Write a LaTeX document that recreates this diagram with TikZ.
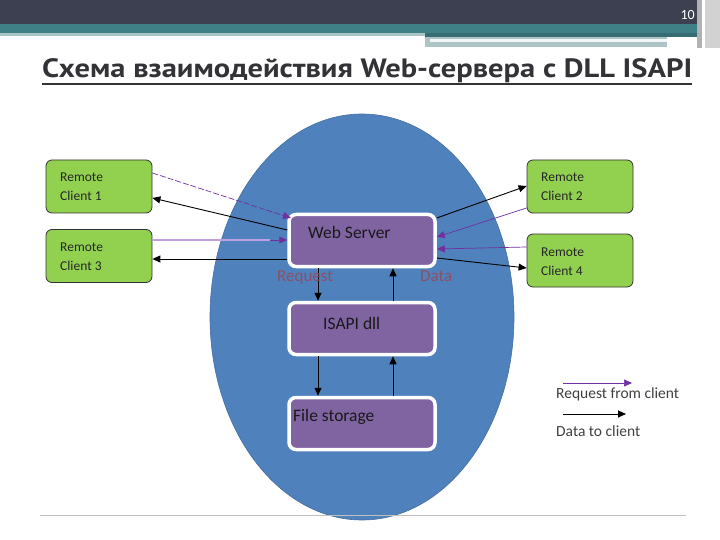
\documentclass[tikz,border=0pt]{standalone}
\usepackage{fontspec}
\setmainfont{Carlito}
\newfontfamily\titlefont{PT Sans}
\usetikzlibrary{arrows.meta,shapes.geometric}
\definecolor{darkbar}{RGB}{60,64,80}
\definecolor{tealbar}{RGB}{62,128,134}
\definecolor{lightbar}{RGB}{172,196,198}
\definecolor{ellblue}{RGB}{79,129,189}
\definecolor{elledge}{RGB}{70,110,160}
\definecolor{boxpurple}{RGB}{128,100,162}
\definecolor{boxgreen}{RGB}{146,208,80}
\definecolor{reqpurple}{RGB}{112,48,160}
\definecolor{lavender}{RGB}{190,160,225}
\definecolor{labelmauve}{RGB}{140,80,100}
\definecolor{titlegray}{RGB}{50,50,55}
\begin{document}
\begin{tikzpicture}[x=1pt,y=-1pt,
  serverbox/.style={draw=white,line width=3.5pt,fill=boxpurple,rounded corners=7pt,minimum width=146pt,minimum height=52pt,inner sep=0pt},
  clientbox/.style={draw=black!80,line width=0.8pt,fill=boxgreen,rounded corners=6pt,minimum width=106pt,minimum height=53pt,inner sep=0pt},
  clienttext/.style={font=\fontsize{13.5}{19}\selectfont,align=left,text=black!85,anchor=base west,inner sep=0pt},
  servertext/.style={font=\fontsize{17.5}{20}\selectfont,text=black!90,anchor=base west,inner sep=0pt},
  datarrow/.style={draw=black,line width=0.9pt,-{Triangle[length=8pt,width=7pt]}},
  reqarrow/.style={draw=reqpurple,line width=0.7pt,-{Triangle[length=8pt,width=7pt]}},
  lbl/.style={font=\fontsize{17}{19}\selectfont,text=labelmauve,anchor=base west,inner sep=0pt},
  legtext/.style={anchor=base west,inner sep=0pt,font=\fontsize{15.5}{18}\selectfont,text=black!75}]
\useasboundingbox (0,0) rectangle (720,540);
% header bars
\fill[darkbar] (0,0) rectangle (700,24);
\fill[tealbar] (0,24) rectangle (700,33);
\fill[lightbar] (0,33) rectangle (425,36);
\fill[tealbar!85!black] (425,33) rectangle (700,37);
\fill[lightbar] (425,37) rectangle (667,47);
\fill[white!85!lightbar] (430,39) rectangle (667,42);
\fill[gray!60] (697,0) rectangle (702,48);
\fill[gray!35] (705,0) rectangle (720,48);
\node[text=white,font=\fontsize{14}{16}\selectfont\rmfamily,anchor=base east,inner sep=0pt] (pnum) at (695,20) {10};
% title
\node[anchor=base west,inner sep=0pt,text=titlegray,font=\titlefont\bfseries\fontsize{26.5}{30}\selectfont] (title) at (42,78) {\resizebox{650pt}{\height}{Схема взаимодействия Web-сервера с DLL ISAPI}};
\draw[titlegray,line width=1.8pt] (42,84) -- (692,84);
% ellipse
\node[ellipse,draw=elledge,line width=0.6pt,fill=ellblue,minimum width=304pt,minimum height=406pt,inner sep=0pt] (ell) at (362,317) {};
% server boxes
\node[serverbox] (web) at (362,240.5) {};
\node[servertext] (webt) at (308,238) {Web Server};
\node[serverbox] (isapi) at (362,328.5) {};
\node[servertext] (isapit) at (323,329) {ISAPI dll};
\node[serverbox] (file) at (362,423.5) {};
\node[servertext] (filet) at (293,421) {File storage};
% clients
\node[clientbox] (c1) at (99,186.5) {};
\node[clienttext] (c1t) at (60,201) {Remote\\Client 1};
\node[clientbox] (c3) at (99,256) {};
\node[clienttext] (c3t) at (60,270) {Remote\\Client 3};
\node[clientbox] (c2) at (580,186.5) {};
\node[clienttext] (c2t) at (541,201) {Remote\\Client 2};
\node[clientbox] (c4) at (580,260.5) {};
\node[clienttext] (c4t) at (541,275) {Remote\\Client 4};
% left connectors
\draw[reqarrow,dash pattern=on 6pt off 2pt] (c1.east |- 0,173) -- (291,218);
\draw[datarrow] (web.west |- 0,230) -- (c1.east |- 0,198);
\draw[draw=lavender,line width=1.2pt] (c3.east |- 0,240) -- (270,240);
\draw[reqarrow] (270,240) -- (web.west |- 0,240);
\draw[datarrow] (web.west |- 0,259) -- (c3.east |- 0,259);
% right connectors
\draw[datarrow] (web.east |- 0,218) -- (c2.west |- 0,186);
\draw[reqarrow] (c2.west |- 0,208) -- (web.east |- 0,237);
\draw[reqarrow] (c4.west |- 0,247) -- (web.east |- 0,249);
\draw[datarrow] (web.east |- 0,258) -- (c4.west |- 0,268);
% vertical
\draw[datarrow] (web.south -| 318,0) -- (isapi.north -| 318,0);
\draw[datarrow] (isapi.north -| 393,0) -- (web.south -| 393,0);
\draw[datarrow] (isapi.south -| 318,0) -- (file.north -| 318,0);
\draw[datarrow] (file.north -| 393,0) -- (isapi.south -| 393,0);
\node[lbl] (req) at (277,281) {Request};
\node[lbl] (dat) at (420,281) {Data};
% legend
\coordinate (l1a) at (563,383); \coordinate (l1b) at (632,383);
\draw[reqarrow] (l1a) -- (l1b);
\node[legtext] (lt1) at (556,398) {Request from client};
\coordinate (l2a) at (563,414); \coordinate (l2b) at (626,414);
\draw[datarrow] (l2a) -- (l2b);
\node[legtext] (lt2) at (556,436) {Data to client};
% footer line
\draw[gray!50,line width=1pt] (40,515) -- (686,515);
\end{tikzpicture}
\end{document}
